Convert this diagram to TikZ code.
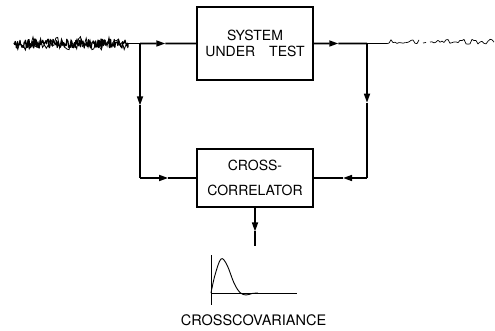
\documentclass[tikz,border=0pt]{standalone}
\usepackage{fontspec}
\setmainfont{TeX Gyre Heros}
\usetikzlibrary{arrows.meta,calc}
\tikzset{
  blk/.style={draw, line width=1.5pt, inner sep=0pt, align=center},
  conn/.style={line width=1.6pt},
  tip/.style={conn, -{Triangle[length=9pt,width=6pt]}},
  lbl/.style={inner sep=0pt}
}
\newcommand{\arrowline}[3]{%
  \draw[tip] (#1) -- ($(#1)!#3!(#2)$);
  \draw[conn] ($(#1)!#3!(#2)$) -- (#2);}
\begin{document}
\begin{tikzpicture}[x=1pt,y=-1pt]
\useasboundingbox (0,0) rectangle (495,331);
% blocks
\node[blk, minimum width=116pt, minimum height=73pt,
      font=\fontsize{14}{16}\selectfont] (sut) at (255,43.5) {SYSTEM\\UNDER\quad TEST};
\node[blk, minimum width=116pt, minimum height=58pt,
      font=\fontsize{14}{25}\selectfont] (cc) at (255,178) {CROSS-\\CORRELATOR};
% coordinates
\coordinate (nin) at (128,43.5);
\coordinate (jl) at (140,43.5);
\coordinate (cl) at (140,178);
\coordinate (jr) at (367,43.5);
\coordinate (cr) at (367,178);
\coordinate (nout) at (387,43.5);
\coordinate (down) at (255,246);
% input noise
\pgfmathsetseed{7}
\draw[line width=1.2pt, line join=round] (14,43)
  \foreach \i in {1,...,190} { -- ({14+\i*0.6},{43.5+4.5*rand}) } -- (nin);
\draw[line width=0.8pt] (14,43)
  \foreach \i in {1,...,60} { -- ({14+\i*1.9},{43.5+7*rand}) };
% output noise
\draw[line width=0.7pt, line join=round] (nout)
  \foreach \i in {1,...,16} { -- ({387+\i*2},{42+2.5*rand}) };
\draw[line width=0.7pt] (423,43) -- (426,42.5);
\draw[line width=0.7pt, line join=round] (430,42)
  \foreach \i in {1,...,32} { -- ({430+\i*2},{41.5+2.8*rand}) };
% connectors
\draw[conn] (nin) -- (jl);
\arrowline{jl}{sut.west}{0.45}
\arrowline{sut.east}{jr}{0.46}
\draw[conn] (jr) -- (nout);
\arrowline{jl}{cl}{0.46}
\arrowline{cl}{cc.west}{0.5}
\arrowline{jr}{cr}{0.44}
\arrowline{cr}{cc.east}{0.45}
\arrowline{cc.south}{down}{0.62}
% crosscovariance graph
\coordinate (ay0) at (211,255);
\coordinate (ay1) at (211,305);
\coordinate (ax0) at (211,293);
\coordinate (ax1) at (297,293);
\draw[line width=1pt] (ay0) -- (ay1);
\draw[line width=1pt] (ax0) -- (ax1);
\draw[line width=0.9pt] plot[smooth, tension=0.6] coordinates
  {(211,293) (215,275) (221,259) (227,265) (234,283) (240,292.5) (246,295) (252,293.5) (258,293)};
\node[lbl, font=\fontsize{14.5}{16}\selectfont] (cov) at (253.5,320) {CROSSCOVARIANCE};
\end{tikzpicture}
\end{document}
